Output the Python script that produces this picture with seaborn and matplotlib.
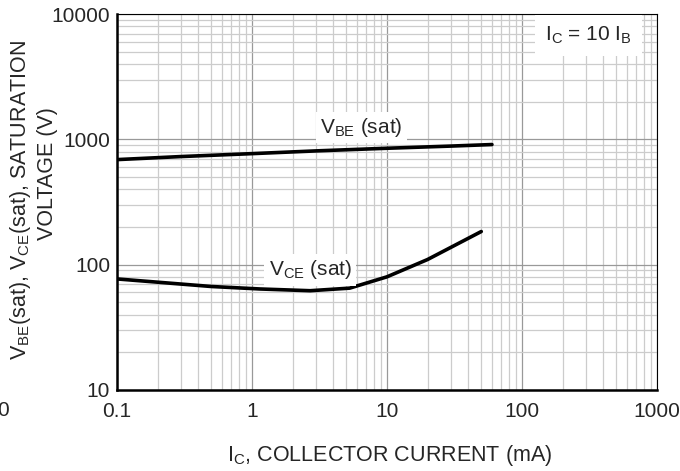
import numpy as np
import pandas as pd
import matplotlib
matplotlib.use("Agg")
import matplotlib.pyplot as plt
from matplotlib.ticker import LogLocator, FixedLocator, FixedFormatter, NullFormatter
import seaborn as sns

# --- data ---
ic_vbe = [0.1, 0.3, 1, 3, 10, 30, 60]
vbe_sat = [690, 730, 770, 810, 850, 885, 910]

ic_vce = [0.1, 0.5, 1.15, 2.7, 5.3, 10, 20, 50]
vce_sat = [77, 67, 64, 62, 65, 80, 110, 184]

x_ticks = [0.1, 1, 10, 100, 1000]
x_labels = ["0.1", "1", "10", "100", "1000"]
y_ticks = [10, 100, 1000, 10000]
y_labels = ["10", "100", "1000", "10000"]

sns.set_style("white")
plt.rcParams['font.family'] = ['Liberation Sans', 'DejaVu Sans']
plt.rcParams['mathtext.fontset'] = 'custom'
plt.rcParams['mathtext.rm'] = 'Liberation Sans'

FS_TICK = 15
FS_LABEL = 15.5

df = pd.concat([
    pd.DataFrame({'ic': ic_vbe, 'v': vbe_sat, 'curve': 'VBE'}),
    pd.DataFrame({'ic': ic_vce, 'v': vce_sat, 'curve': 'VCE'}),
])

fig = plt.figure(figsize=(6.8, 4.71), dpi=100)
ax = fig.add_axes([0.172, 0.172, 0.794, 0.798])

sns.lineplot(data=df, x='ic', y='v', hue='curve', palette=['black', 'black'],
             linewidth=2.6, legend=False, sort=False, ax=ax, zorder=3)

ax.set_xscale('log')
ax.set_yscale('log')
ax.set_xlim(0.1, 1000)
ax.set_ylim(10, 10000)

# grid: light minor lines, darker decade lines
ax.xaxis.set_major_locator(FixedLocator(x_ticks))
ax.xaxis.set_major_formatter(FixedFormatter(x_labels))
ax.yaxis.set_major_locator(FixedLocator(y_ticks))
ax.yaxis.set_major_formatter(FixedFormatter(y_labels))
ax.xaxis.set_minor_locator(LogLocator(base=10, subs=np.arange(2, 10), numticks=20))
ax.yaxis.set_minor_locator(LogLocator(base=10, subs=np.arange(2, 10), numticks=20))
ax.xaxis.set_minor_formatter(NullFormatter())
ax.yaxis.set_minor_formatter(NullFormatter())
ax.grid(which='minor', color='#cccccc', linewidth=0.9)
ax.grid(which='major', color='#999999', linewidth=0.9)
ax.tick_params(which='both', length=0, labelsize=FS_TICK)
ax.tick_params(axis='x', pad=9)
ax.tick_params(axis='y', pad=5)

for side in ['left', 'bottom']:
    ax.spines[side].set_linewidth(1.8)
for side in ['top', 'right']:
    ax.spines[side].set_linewidth(0.8)
for s in ax.spines.values():
    s.set_color('black')

box = dict(facecolor='white', edgecolor='none', pad=3)
ax.text(6.5, 1250, r"V$_\mathregular{BE}$ (sat)", fontsize=FS_TICK, ha='center', va='center',
        bbox=box, zorder=4)
ax.text(2.7, 91, r"V$_\mathregular{CE}$ (sat)", fontsize=FS_TICK, ha='center', va='center',
        bbox=box, zorder=4)
ax.text(310, 6800, r"I$_\mathregular{C}$ = 10 I$_\mathregular{B}$", fontsize=FS_TICK,
        ha='center', va='center', bbox=dict(facecolor='white', edgecolor='none', pad=7), zorder=4)

ax.set_xlabel(r"I$_\mathregular{C}$, COLLECTOR CURRENT (mA)", fontsize=FS_LABEL)
ax.xaxis.set_label_coords(0.505, -0.14)
ax.set_ylabel("")
fig.text(21 / 680, 1 - 200 / 471, r"V$_\mathregular{BE}$(sat), V$_\mathregular{CE}$(sat), SATURATION",
         rotation=90, ha='center', va='center', fontsize=FS_LABEL)
fig.text(47 / 680, 1 - 174 / 471, "VOLTAGE (V)", rotation=90, ha='center', va='center', fontsize=FS_LABEL)
fig.text(9 / 680, 1 - 410 / 471, "0", ha='right', va='center', fontsize=FS_TICK)

fig.savefig("out.png", dpi=100)
